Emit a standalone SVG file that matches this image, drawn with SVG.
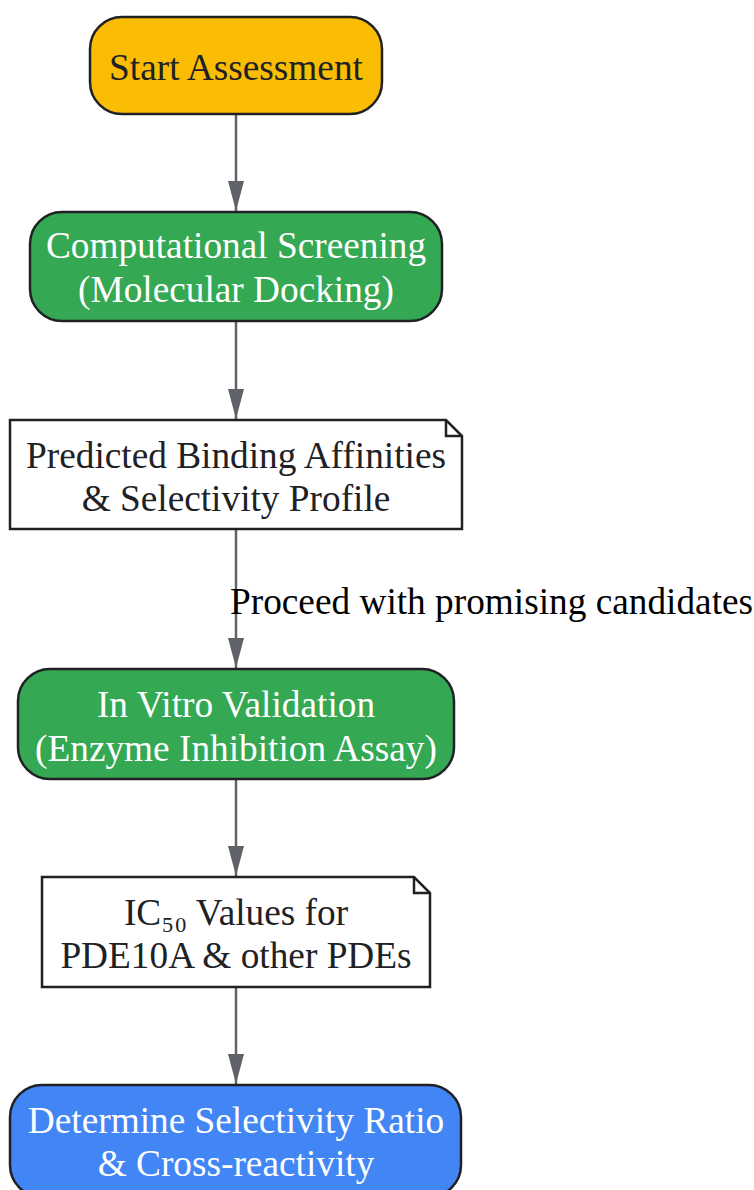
<svg xmlns="http://www.w3.org/2000/svg" width="754" height="1190" viewBox="0 0 754 1190">
<style>
.n{stroke:#202124;stroke-width:2.5}
.t{font-family:"Liberation Serif","Times New Roman",serif;font-size:37.3px;text-anchor:middle}
.dk{fill:#202124}
.wh{fill:#ffffff}
.e{stroke:#5f6368;stroke-width:2.5;fill:none}
</style>
<defs>
<marker id="ah" viewBox="0 0 30 16" refX="30" refY="8" markerWidth="30" markerHeight="16" markerUnits="userSpaceOnUse" orient="auto">
<path d="M0,0 L30,8 L0,16 z" fill="#5f6368"/>
</marker>
</defs>
<rect width="754" height="1190" fill="#ffffff"/>
<g id="edges">
<line class="e" x1="236" y1="114" x2="236" y2="211" marker-end="url(#ah)"/>
<line class="e" x1="236" y1="321" x2="236" y2="419" marker-end="url(#ah)"/>
<line class="e" x1="236" y1="529" x2="236" y2="668" marker-end="url(#ah)"/>
<line class="e" x1="236" y1="779" x2="236" y2="876" marker-end="url(#ah)"/>
<line class="e" x1="236" y1="987" x2="236" y2="1084" marker-end="url(#ah)"/>
<text class="t" x="230" y="614" style="text-anchor:start" fill="#000000">Proceed with promising candidates</text>
</g>
<g id="start">
<rect class="n" x="90" y="17" width="292" height="97" rx="32" fill="#fbbc04"/>
<text class="t dk" x="236" y="80">Start Assessment</text>
</g>
<g id="computational">
<rect class="n" x="30" y="212" width="412" height="109" rx="32" fill="#34a853"/>
<text class="t wh" x="236" y="258">Computational Screening</text>
<text class="t wh" x="236" y="302">(Molecular Docking)</text>
</g>
<g id="predicted">
<path class="n" d="M10,420 H446 L462,436 V529 H10 Z" fill="#ffffff"/>
<path class="n" d="M446,420 V436 H462" fill="none"/>
<text class="t dk" x="236" y="468">Predicted Binding Affinities</text>
<text class="t dk" x="236" y="511">&amp; Selectivity Profile</text>
</g>
<g id="invitro">
<rect class="n" x="18" y="669" width="436" height="110" rx="32" fill="#34a853"/>
<text class="t wh" x="236" y="717">In Vitro Validation</text>
<text class="t wh" x="236" y="761">(Enzyme Inhibition Assay)</text>
</g>
<g id="ic50">
<path class="n" d="M42,877 H414 L430,893 V987 H42 Z" fill="#ffffff"/>
<path class="n" d="M414,877 V893 H430" fill="none"/>
<text class="t dk" x="236" y="925">IC₅₀ Values for</text>
<text class="t dk" x="236" y="968">PDE10A &amp; other PDEs</text>
</g>
<g id="determine">
<rect class="n" x="10" y="1085" width="451" height="112" rx="32" fill="#4285f4"/>
<text class="t wh" x="236" y="1133">Determine Selectivity Ratio</text>
<text class="t wh" x="236" y="1176">&amp; Cross-reactivity</text>
</g>
</svg>
